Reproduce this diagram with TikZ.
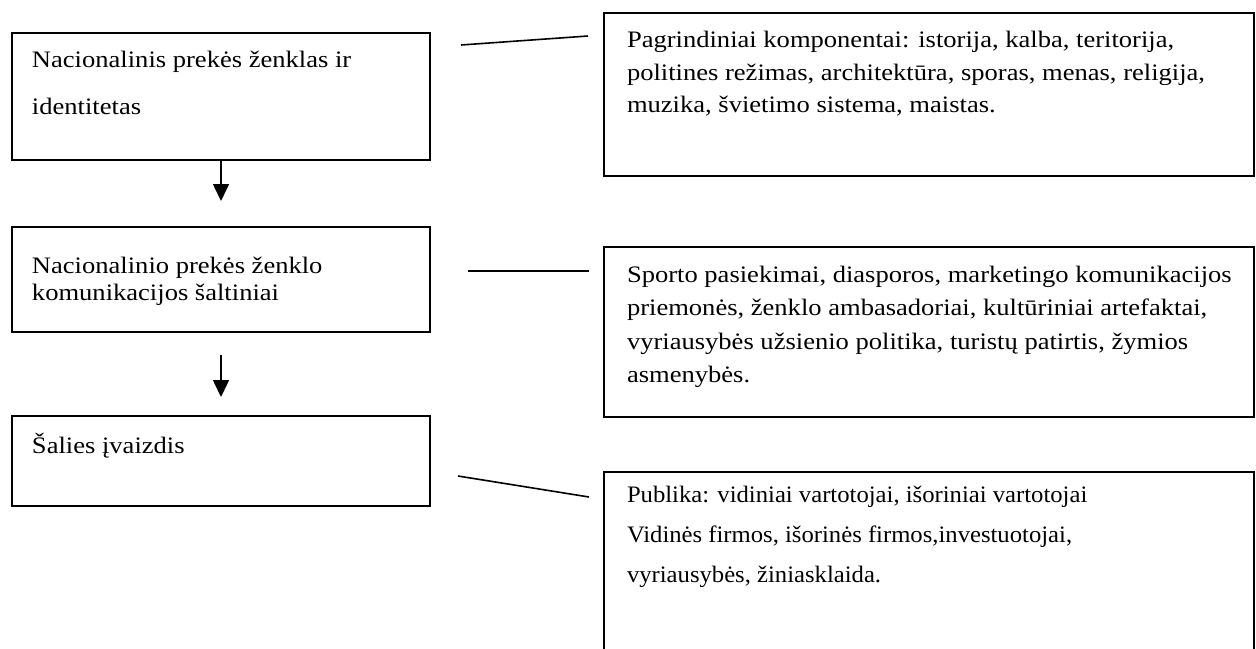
\documentclass[tikz,border=0pt]{standalone}
\usepackage{fontspec}
\setmainfont{Liberation Serif}[FakeStretch=1.125]
\newfontfamily\narrowserif{Liberation Serif}[FakeStretch=1.045]
\usetikzlibrary{arrows.meta}
\tikzset{
  box/.style={draw=black, line width=0.9pt, anchor=north west, inner sep=0pt, outer sep=0pt},
  txt/.style={anchor=base west, inner sep=0pt, outer sep=0pt, font=\fontsize{11.8}{13.5}\selectfont},
  ntxt/.style={txt, font=\fontsize{11.8}{13.5}\narrowserif},
  link/.style={draw=black, line width=0.8pt},
  flow/.style={draw=black, line width=0.8pt, -{Triangle[width=8pt,length=8.5pt]}}
}
\begin{document}
\begin{tikzpicture}[x=0.5pt, y=-0.5pt]
\useasboundingbox (0,0) rectangle (1256,648);
\clip (0,0) rectangle (1256,648);
% left column boxes
\node[box, minimum width=209pt, minimum height=63.5pt] (b1) at (12,33) {};
\node[box, minimum width=209pt, minimum height=52.5pt] (b2) at (12,227) {};
\node[box, minimum width=209pt, minimum height=45pt] (b3) at (12,416) {};
% right column boxes
\node[box, minimum width=325pt, minimum height=81.5pt] (r1) at (604,13) {};
\node[box, minimum width=325pt, minimum height=85pt] (r2) at (604,247) {};
\node[box, minimum width=325pt, minimum height=100pt] (r3) at (604,472) {};
% texts
\node[txt] (t11) at (32,67.5) {Nacionalinis prekės ženklas ir};
\node[txt] (t12) at (32,114) {identitetas};
\node[txt] (t21) at (32,273) {Nacionalinio prekės ženklo};
\node[txt] (t22) at (32,300) {komunikacijos šaltiniai};
\node[txt] (t31) at (32,453) {Šalies įvaizdis};
\node[txt] (s11) at (627,47) {Pagrindiniai komponentai: istorija, kalba, teritorija,};
\node[txt] (s12) at (627,80) {politines režimas, architektūra, sporas, menas, religija,};
\node[txt] (s13) at (627,112) {muzika, švietimo sistema, maistas.};
\node[txt] (s21) at (627,282) {Sporto pasiekimai, diasporos, marketingo komunikacijos};
\node[txt] (s22) at (627,315.5) {priemonės, ženklo ambasadoriai, kultūriniai artefaktai,};
\node[txt] (s23) at (627,349) {vyriausybės užsienio politika, turistų patirtis, žymios};
\node[txt] (s24) at (627,382) {asmenybės.};
\node[ntxt] (s31) at (627,502) {Publika: vidiniai vartotojai, išoriniai vartotojai};
\node[ntxt] (s32) at (627,542) {Vidinės firmos, išorinės firmos,investuotojai,};
\node[ntxt] (s33) at (627,582) {vyriausybės, žiniasklaida.};
% connector ends
\coordinate (l1a) at (461,45);
\coordinate (l1b) at (588,36);
\coordinate (l2a) at (468,271);
\coordinate (l2b) at (589,271);
\coordinate (l3a) at (458,476);
\coordinate (l3b) at (589,497);
\coordinate (a1e) at (221,201);
\coordinate (a2s) at (221,355);
\coordinate (a2e) at (221,397);
% connectors
\draw[link] (l1a) -- (l1b);
\draw[link] (l2a) -- (l2b);
\draw[link] (l3a) -- (l3b);
\draw[flow] (b1.south) -- (a1e);
\draw[flow] (a2s) -- (a2e);
\end{tikzpicture}
\end{document}
